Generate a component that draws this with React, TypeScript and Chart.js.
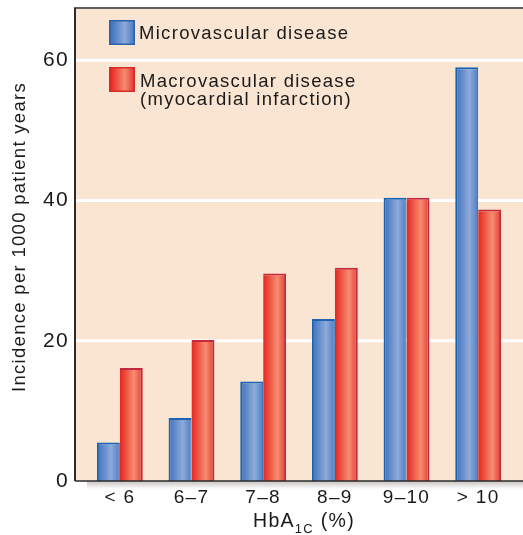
import React, { useEffect, useRef } from 'react';
import { Chart, registerables } from 'chart.js';

Chart.register(...registerables);

const FONT = '"Liberation Sans", Arial, Helvetica, sans-serif';

const categories = ['< 6', '6–7', '7–8', '8–9', '9–10', '> 10'];
const microvascular = [5.5, 9.0, 14.2, 23.1, 40.4, 59.0];
const macrovascular = [16.1, 20.1, 29.6, 30.4, 40.4, 38.7];
const yTickValues = [0, 20, 40, 60];
const yMax = 67.3;
const microLabel = 'Microvascular disease';
const macroLabel = ['Macrovascular disease', '(myocardial infarction)'];
const yTitle = 'Incidence per 1000 patient years';
const xTitleMain = 'HbA';
const xTitleSub = '1C';
const xTitleTail = ' (%)';

const CAT_PCT = 0.64;
const BAR_PCT = 1.0;
const TEXT = '#1a1a1a';

const BLUE_STOPS: [number, string][] = [[0, '#3c70bd'], [0.62, '#8eaad9'], [1, '#4d7dc3']];
const RED_STOPS: [number, string][] = [[0, '#e6261f'], [0.62, '#f68c70'], [1, '#e53b33']];

function makeGrad(ctx: CanvasRenderingContext2D, x0: number, x1: number, stops: [number, string][]) {
  const g = ctx.createLinearGradient(x0, 0, x1, 0);
  stops.forEach(([o, c]) => g.addColorStop(o, c));
  return g;
}

function barFill(stops: [number, string][], side: number) {
  return (c: any) => {
    const chart = c.chart;
    const xs = chart.scales && chart.scales.x;
    if (c.type !== 'data' || !xs || !chart.chartArea) return stops[1][1];
    const center = xs.getPixelForValue(c.dataIndex);
    const catW = xs.width / categories.length;
    const w = ((catW * CAT_PCT) / 2) * BAR_PCT;
    if (!isFinite(center) || !(w > 0)) return stops[1][1];
    const x0 = side < 0 ? center - w : center;
    return makeGrad(chart.ctx, x0, x0 + w, stops);
  };
}

const decorPlugin = {
  id: 'decor',
  beforeDraw(chart: any) {
    const { ctx, chartArea: a, scales } = chart;
    const y = scales.y;
    ctx.letterSpacing = '1.3px';
    ctx.save();
    const L = a.left - 9;
    const R = chart.width;
    ctx.fillStyle = '#f9e5d2';
    ctx.fillRect(L, a.top, R - L, a.bottom - a.top);
    ctx.strokeStyle = '#ffffff';
    ctx.lineWidth = 3;
    yTickValues
      .filter((v) => v > 0)
      .forEach((v) => {
        const py = y.getPixelForValue(v);
        ctx.beginPath();
        ctx.moveTo(L + 1, py);
        ctx.lineTo(R, py);
        ctx.stroke();
      });
    ctx.restore();
  },
  afterDatasetsDraw(chart: any) {
    const { ctx, chartArea: a } = chart;
    const L = a.left - 9;
    const R = chart.width;
    ctx.save();
    const sg = ctx.createLinearGradient(0, a.bottom, 0, a.bottom + 8);
    sg.addColorStop(0, 'rgba(90,80,75,0.35)');
    sg.addColorStop(1, 'rgba(90,80,75,0)');
    ctx.fillStyle = sg;
    ctx.fillRect(L + 12, a.bottom, R - L - 12, 8);
    ctx.strokeStyle = '#2b2b2b';
    ctx.lineWidth = 1.5;
    ctx.beginPath();
    ctx.moveTo(L, a.bottom);
    ctx.lineTo(R, a.bottom);
    ctx.stroke();
    ctx.lineWidth = 2;
    ctx.beginPath();
    ctx.moveTo(L, a.bottom);
    ctx.lineTo(L, a.top - 1);
    ctx.stroke();
    ctx.lineWidth = 1.5;
    ctx.beginPath();
    ctx.moveTo(L - 1, a.top - 1);
    ctx.lineTo(R, a.top - 1);
    ctx.stroke();
    ctx.restore();
  },
  afterDraw(chart: any) {
    const { ctx, chartArea: a } = chart;
    ctx.save();
    ctx.letterSpacing = '1.3px';
    const lx = a.left + 25;
    const drawBox = (top: number, stops: [number, string][], border: string) => {
      ctx.fillStyle = border;
      ctx.fillRect(lx, top, 26, 25);
      ctx.fillStyle = makeGrad(ctx, lx + 1.5, lx + 24.5, stops);
      ctx.fillRect(lx + 1.5, top + 1.5, 23, 22);
    };
    drawBox(a.top + 11, BLUE_STOPS, '#2a62ae');
    drawBox(a.top + 58, RED_STOPS, '#d82a28');
    ctx.fillStyle = TEXT;
    ctx.textAlign = 'left';
    ctx.textBaseline = 'alphabetic';
    ctx.font = `18.5px ${FONT}`;
    ctx.fillText(microLabel, lx + 30, a.top + 29.5);
    ctx.fillText(macroLabel[0], lx + 31, a.top + 77.5);
    ctx.fillText(macroLabel[1], lx + 31, a.top + 96);

    // y axis title
    ctx.save();
    ctx.font = `18.5px ${FONT}`;
    ctx.textAlign = 'center';
    ctx.textBaseline = 'middle';
    ctx.translate(20, (a.top + a.bottom) / 2 - 8);
    ctx.rotate(-Math.PI / 2);
    ctx.fillText(yTitle, 0, 0);
    ctx.restore();

    // x axis title with subscript
    const big = `19.5px ${FONT}`;
    const small = `13px ${FONT}`;
    ctx.font = big;
    const w1 = ctx.measureText(xTitleMain).width;
    const w3 = ctx.measureText(xTitleTail).width;
    ctx.font = small;
    const w2 = ctx.measureText(xTitleSub).width;
    const total = w1 + w2 + w3;
    let x = (a.left + a.right) / 2 + 5 - total / 2;
    const base = 526.5;
    ctx.font = big;
    ctx.fillText(xTitleMain, x, base);
    x += w1;
    ctx.font = small;
    ctx.fillText(xTitleSub, x, base + 6);
    x += w2;
    ctx.font = big;
    ctx.fillText(xTitleTail, x, base);
    ctx.restore();
  },
};

export default function App() {
  const ref = useRef<HTMLCanvasElement | null>(null);
  useEffect(() => {
    if (!ref.current) return;
    const chart = new Chart(ref.current, {
      type: 'bar',
      data: {
        labels: categories,
        datasets: [
          {
            label: microLabel,
            data: microvascular,
            backgroundColor: barFill(BLUE_STOPS, -1),
            borderColor: '#1a63b3',
            borderWidth: { top: 2, left: 2, right: 1, bottom: 0 },
            categoryPercentage: CAT_PCT,
            barPercentage: BAR_PCT,
          },
          {
            label: macroLabel.join(' '),
            data: macrovascular,
            backgroundColor: barFill(RED_STOPS, 1),
            borderColor: '#c3293d',
            borderWidth: { top: 2, left: 0, right: 2, bottom: 0 },
            categoryPercentage: CAT_PCT,
            barPercentage: BAR_PCT,
          },
        ],
      },
      options: {
        responsive: false,
        devicePixelRatio: 1,
        animation: false,
        layout: { padding: { left: 0, right: 9, top: 9, bottom: 0 } },
        plugins: { legend: { display: false }, tooltip: { enabled: false } },
        scales: {
          x: {
            grid: { display: false, drawTicks: false },
            border: { display: false },
            ticks: { font: { family: FONT, size: 19 }, color: TEXT, padding: 5 },
            afterFit: (s: any) => {
              s.height = 54;
              s.paddingLeft = 0;
              s.paddingRight = 0;
            },
          },
          y: {
            min: 0,
            max: yMax,
            grid: { display: false, drawTicks: false },
            border: { display: false },
            afterBuildTicks: (s: any) => {
              s.ticks = yTickValues.map((value) => ({ value }));
            },
            ticks: { font: { family: FONT, size: 21 }, color: TEXT, padding: 15 },
            afterFit: (s: any) => {
              s.width = 84;
              s.paddingTop = 0;
              s.paddingBottom = 0;
            },
          },
        },
      },
      plugins: [decorPlugin],
    } as any);
    return () => chart.destroy();
  }, []);
  return (
    <div style={{ position: 'fixed', left: 0, top: 0, width: 523, height: 535 }}>
      <canvas ref={ref} width={523} height={535} style={{ display: 'block' }} />
    </div>
  );
}
